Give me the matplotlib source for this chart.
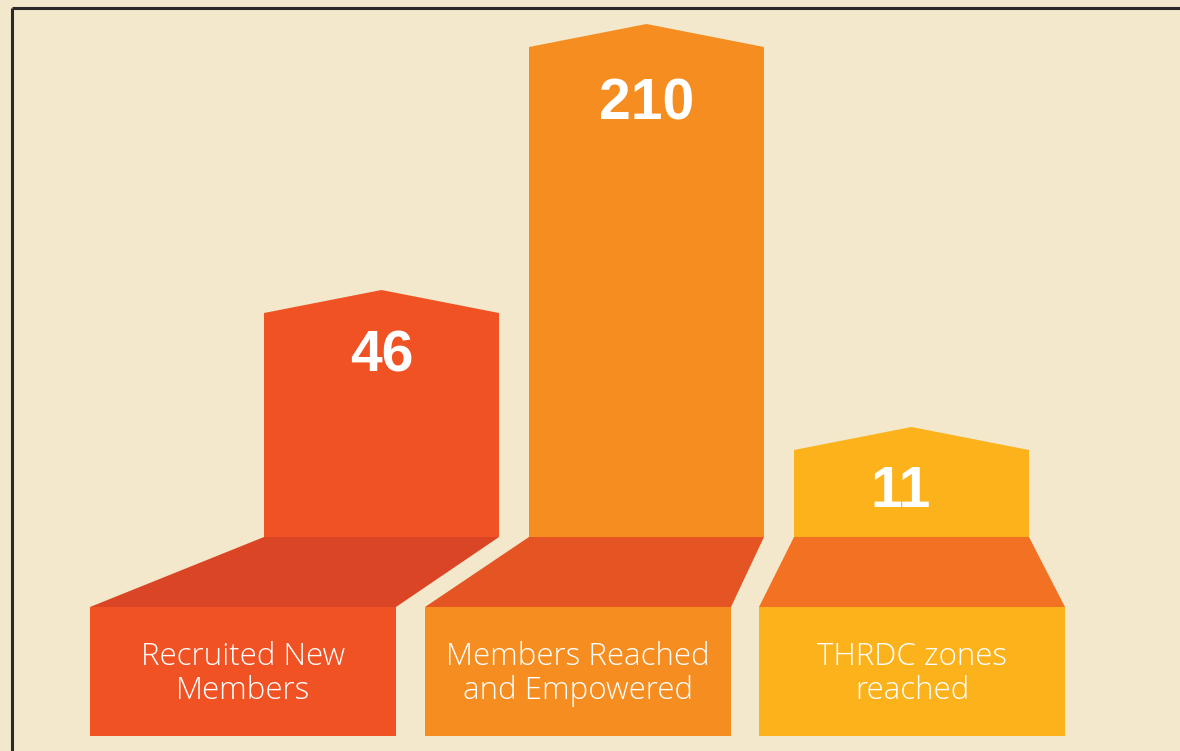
import matplotlib
matplotlib.use("Agg")
import matplotlib.pyplot as plt
from matplotlib.patches import Polygon, Rectangle

# ---- data ----
categories = ["Recruited New\nMembers", "Members Reached\nand Empowered", "THRDC zones\nreached"]
values = [46, 210, 11]
# visual (non-proportional) heights of the upright columns as drawn, in px
bar_heights = [224, 490, 87]

# ---- style ----
bg = "#F3E8CB"
front_colors = ["#F15224", "#F58D20", "#FBB21B"]
floor_colors = ["#DA4525", "#E55423", "#F37123"]

W, H = 1180, 751
fig = plt.figure(figsize=(W / 100, H / 100), dpi=100, facecolor=bg)
ax = fig.add_axes([0, 0, 1, 1])
ax.set_xlim(0, W)
ax.set_ylim(0, H)
ax.axis("off")
ax.set_facecolor(bg)

# layout (pixels, y measured upward)
col_left = [264, 529, 794]
col_w = 235
box_left = [90, 425, 759]
box_w = 306
floor_y = 751 - 537
box_top = 751 - 607
box_bot = 751 - 736
roof_rise = 23
value_drop = [43, 58, 42]
value_dx = [0, 0, -11]

for i in range(3):
    c = front_colors[i]
    x0 = col_left[i]
    x1 = x0 + col_w
    top = floor_y + bar_heights[i]
    xm = (x0 + x1) / 2
    # upright column with peaked roof
    ax.add_patch(Polygon([(x0, floor_y), (x1, floor_y), (x1, top), (xm, top + roof_rise), (x0, top)],
                         closed=True, facecolor=c, edgecolor="none", zorder=2))
    # floor parallelogram
    b0 = box_left[i]
    b1 = b0 + box_w
    ax.add_patch(Polygon([(x0, floor_y), (x1, floor_y), (b1, box_top), (b0, box_top)],
                         closed=True, facecolor=floor_colors[i], edgecolor="none", zorder=2))
    # front box
    ax.add_patch(Rectangle((b0, box_bot), box_w, box_top - box_bot,
                           facecolor=c, edgecolor="none", zorder=2))
    # value
    ax.text(xm + value_dx[i], top - value_drop[i], str(values[i]), ha="center", va="center",
            color="white", fontsize=41, fontweight="bold",
            family=["Liberation Sans", "DejaVu Sans"], zorder=3)
    # label
    ax.text((b0 + b1) / 2, 751 - 674, categories[i], ha="center", va="center", color="white",
            fontsize=22.5, fontweight="light", family=["Open Sans", "DejaVu Sans"],
            linespacing=1.1, zorder=3)

# frame lines (top and left)
ax.plot([12, W], [751 - 7.5, 751 - 7.5], color="#2a2a2a", lw=2.2, solid_capstyle="butt", zorder=4)
ax.plot([12, 12], [751 - 7.5, 0], color="#2a2a2a", lw=2.2, solid_capstyle="butt", zorder=4)

fig.savefig("out.png", dpi=100, facecolor=bg)
